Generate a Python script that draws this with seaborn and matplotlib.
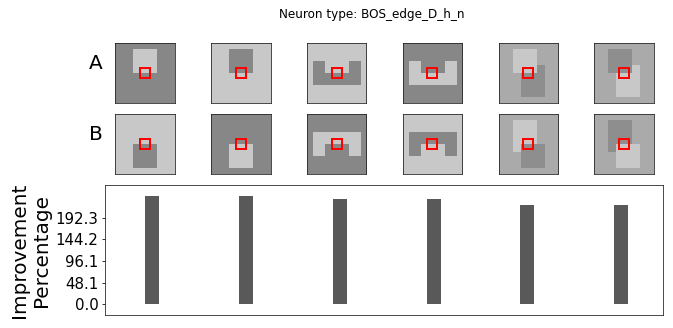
import numpy as np
import pandas as pd
import matplotlib
matplotlib.use("Agg")
import matplotlib.pyplot as plt
import seaborn as sns
from matplotlib.patches import Rectangle

# Bar data: improvement percentage for each of the 6 stimulus pairs
stim_names = ["1", "2", "3", "4", "5", "6"]
improvement = [240.35, 240.35, 233.9, 233.9, 220.5, 220.5]
ytick_vals = [0.0, 48.07, 96.14, 144.21, 192.28]
ytick_labels = ["0.0", "48.1", "96.1", "144.2", "192.3"]

# Stimulus images (60x60 grid): background level + rectangles (x0, x1, y0, y1, level),
# drawn in order so later ones sit on top
DARK, LIGHT, MID, DARK2 = 0.53, 0.785, 0.667, 0.557
row_a = [
    (DARK,  [(18, 42, 6, 30, LIGHT)]),
    (LIGHT, [(18, 42, 6, 30, DARK)]),
    (LIGHT, [(6, 54, 18, 42, DARK), (18, 42, 18, 30, LIGHT)]),
    (DARK,  [(6, 54, 18, 42, LIGHT), (18, 42, 18, 30, DARK)]),
    (MID,   [(22, 46, 22, 54, DARK2), (14, 38, 6, 30, LIGHT)]),
    (MID,   [(22, 46, 22, 54, LIGHT), (14, 38, 6, 30, DARK2)]),
]
row_b = [
    (LIGHT, [(18, 42, 30, 54, DARK)]),
    (DARK,  [(18, 42, 30, 54, LIGHT)]),
    (DARK,  [(6, 54, 18, 42, LIGHT), (18, 42, 30, 42, DARK)]),
    (LIGHT, [(6, 54, 18, 42, DARK), (18, 42, 30, 42, LIGHT)]),
    (MID,   [(14, 38, 6, 38, LIGHT), (22, 46, 30, 54, DARK2)]),
    (MID,   [(14, 38, 6, 38, DARK2), (22, 46, 30, 54, LIGHT)]),
]
grid_n = 60
rf_box = (25, 25, 10)  # x, y, size of the red receptive-field box


def make_image(bg, rects):
    img = np.full((grid_n, grid_n), bg)
    for x0, x1, y0, y1, lev in rects:
        img[y0:y1, x0:x1] = lev
    return img


W, H = 673, 328
fig = plt.figure(figsize=(W / 72, H / 72), dpi=72)

img_lefts = [115.3, 211.1, 306.9, 402.7, 498.5, 594.3]
img_size = 59.4
row_tops = [43.3, 114.3]

for row, top in zip([row_a, row_b], row_tops):
    for (bg, rects), left in zip(row, img_lefts):
        ax = fig.add_axes([left / W, 1 - (top + img_size) / H, img_size / W, img_size / H])
        ax.imshow(make_image(bg, rects), cmap="gray", vmin=0, vmax=1,
                  interpolation="nearest", extent=(0, grid_n, grid_n, 0))
        x, y, s = rf_box
        ax.add_patch(Rectangle((x, y), s, s, fill=False, edgecolor="red", linewidth=2))
        ax.set_xticks([])
        ax.set_yticks([])
        for sp in ax.spines.values():
            sp.set_color("#222222")

fig.text(96 / W, 1 - 69 / H, "A", ha="center", va="baseline", fontsize=20)
fig.text(96 / W, 1 - 140 / H, "B", ha="center", va="baseline", fontsize=20)

# Bar chart of improvement
df = pd.DataFrame({"stim": stim_names, "improvement": improvement})
ax = fig.add_axes([105.3 / W, 1 - 315.3 / H, 558 / W, 130 / H])
sns.barplot(data=df, x="stim", y="improvement", color="0.35", saturation=1,
            width=0.15, linewidth=0, ax=ax)
ax.set_xlim(-0.5, 5.45)
ax.set_ylim(-0.1 * max(improvement), 1.1 * max(improvement))
ax.set_xticks([])
ax.set_xlabel("")
ax.set_yticks(ytick_vals)
ax.set_yticklabels(ytick_labels, fontsize=15)
ax.set_ylabel("Improvement\nPercentage", fontsize=20)
for sp in ax.spines.values():
    sp.set_color("#222222")

fig.text(372 / W, 1 - 18 / H, "Neuron type: BOS_edge_D_h_n", ha="center",
         va="baseline", fontsize=12)

fig.savefig("out.png", dpi=72)
